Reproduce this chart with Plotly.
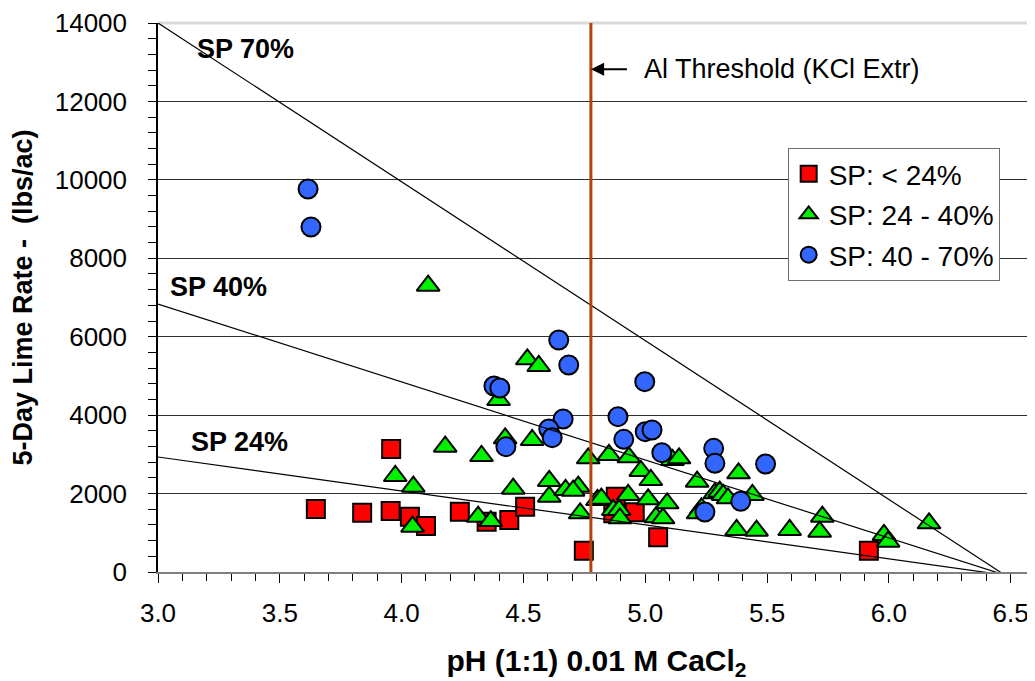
import plotly.graph_objects as go

# ---- data ----
red_ph = [3.648, 3.838, 3.957, 3.955, 4.034, 4.100, 4.239, 4.349, 4.442, 4.507,
          4.748, 4.879, 4.869, 4.957, 5.053, 5.918]
red_rate = [1607, 1513, 3137, 1556, 1411, 1173, 1539, 1283, 1326, 1666,
            544, 1921, 1496, 1522, 886, 544]

green_ph = [4.109, 4.179, 4.328, 3.974, 4.048, 4.045, 4.314, 4.366, 4.516, 4.563,
            4.398, 4.425, 4.536, 4.458, 4.606, 4.606, 4.673, 4.725, 4.704, 4.733,
            4.766, 4.804, 4.820, 4.851, 4.933, 4.930, 4.869, 4.893, 4.896, 4.982,
            5.023, 5.012, 5.044, 5.073, 5.090, 5.112, 5.139, 5.213, 5.231, 5.286,
            5.306, 5.320, 5.340, 5.440, 5.383, 5.217, 5.375, 5.457, 5.593, 5.727,
            5.716, 5.980, 5.997, 6.165]
green_rate = [7301, 3196, 2958, 2448, 2176, 1156, 1411, 1300, 5424, 5253,
              4386, 3409, 3366, 2125, 2321, 1921, 2091, 2176, 2074, 1496,
              2899, 1836, 1870, 2984, 2925, 1964, 1581, 1581, 1369, 2576,
              2346, 1853, 1394, 1369, 1752, 2856, 2899, 2303, 1624, 2007,
              2048, 1964, 1879, 1964, 2517, 1496, 1071, 1054, 1071, 1411,
              1028, 944, 774, 1241]

blue_ph = [3.616, 3.628, 4.645, 4.686, 4.379, 4.403, 4.998, 4.663, 4.604, 4.618,
           4.428, 4.888, 4.912, 5.000, 5.028, 5.068, 5.281, 5.286, 5.494, 5.392,
           5.245]
blue_rate = [9767, 8798, 5916, 5279, 4743, 4692, 4853, 3902, 3647, 3425,
             3196, 3961, 3384, 3578, 3621, 3043, 3154, 2772, 2754, 1803,
             1530]

series_names = ["SP: < 24%", "SP: 24 - 40%", "SP: 40 - 70%"]

# SP reference lines: rate at pH 3.0, converging point
sp_line_names = ["SP 70%", "SP 40%", "SP 24%"]
sp_line_start_ph = 3.0
sp_line_start_rate = [14000, 6834, 2933]
sp_line_end_ph = 6.476
sp_line_end_rate = -77
sp_label_ph = [3.152, 3.04, 3.128]
sp_label_rate = [13342, 7275, 3323]

AL_THRESHOLD = 4.777
al_label = "Al Threshold (KCl Extr)"
al_label_rate = 12820

x_ticks = [3.0, 3.5, 4.0, 4.5, 5.0, 5.5, 6.0, 6.5]
x_tick_text = ["3.0", "3.5", "4.0", "4.5", "5.0", "5.5", "6.0", "6.5"]
y_ticks = [0, 2000, 4000, 6000, 8000, 10000, 12000, 14000]
y_tick_text = ["0", "2000", "4000", "6000", "8000", "10000", "12000", "14000"]

FONT = "Liberation Sans, Arial, sans-serif"

fig = go.Figure()

marker_line = dict(color="black", width=2)
fig.add_trace(go.Scatter(x=red_ph, y=red_rate, mode="markers", name=series_names[0],
                         legendgroup="a",
                         marker=dict(symbol="square", size=18, color="#FF0000", line=marker_line)))
fig.add_trace(go.Scatter(x=green_ph, y=green_rate, mode="markers", name=series_names[1],
                         legendgroup="b",
                         marker=dict(symbol="triangle-up", size=20, color="#00F000", line=marker_line)))
fig.add_trace(go.Scatter(x=blue_ph, y=blue_rate, mode="markers", name=series_names[2],
                         legendgroup="c",
                         marker=dict(symbol="circle", size=19, color="#3366FF", line=marker_line)))

for nm, r0 in zip(sp_line_names, sp_line_start_rate):
    fig.add_trace(go.Scatter(x=[sp_line_start_ph, sp_line_end_ph], y=[r0, sp_line_end_rate],
                             mode="lines", line=dict(color="black", width=1.2),
                             showlegend=False, hoverinfo="skip", name=nm))

fig.add_trace(go.Scatter(x=[AL_THRESHOLD, AL_THRESHOLD], y=[0, 14000], mode="lines",
                         line=dict(color="#B5420C", width=3), showlegend=False,
                         hoverinfo="skip", name="Al Threshold"))

annotations = []
for nm, lx, ly in zip(sp_line_names, sp_label_ph, sp_label_rate):
    annotations.append(dict(x=lx, y=ly, text="<b>" + nm + "</b>", showarrow=False,
                            xanchor="left", yanchor="middle",
                            font=dict(family=FONT, size=27, color="black")))
# arrow pointing at the threshold line
annotations.append(dict(x=AL_THRESHOLD, y=al_label_rate, text=" ", showarrow=True,
                        ax=38, ay=0, arrowhead=2, arrowsize=1.2, arrowwidth=2.2,
                        arrowcolor="black", font=dict(size=2)))
annotations.append(dict(x=AL_THRESHOLD + (642 - 591) / 243.7, y=al_label_rate, text=al_label,
                        showarrow=False, xanchor="left", yanchor="middle",
                        font=dict(family=FONT, size=27, color="black")))

fig.update_layout(
    width=1027, height=673,
    margin=dict(l=150, r=0, t=15, b=109),
    paper_bgcolor="white", plot_bgcolor="white",
    font=dict(family=FONT, size=26, color="black"),
    showlegend=True,
    legend=dict(x=0.718, y=0.772, xanchor="left", yanchor="top",
                bgcolor="white", bordercolor="#707070", borderwidth=1,
                font=dict(family=FONT, size=28, color="black"),
                tracegroupgap=1, itemwidth=30),
    annotations=annotations,
)

fig.update_xaxes(range=[3.0, 6.6], tickvals=x_ticks, ticktext=x_tick_text,
                 showgrid=False, zeroline=False,
                 showline=True, linecolor="#808080", linewidth=2,
                 ticks="outside", ticklen=9, tickwidth=1.2, tickcolor="black",
                 ticklabelstandoff=8,
                 minor=dict(dtick=0.1, ticks="outside", ticklen=7, tickcolor="black", tickwidth=1),
                 tickfont=dict(family=FONT, size=26),
                 title=dict(text="<b>pH (1:1) 0.01 M CaCl<sub>2</sub></b>",
                            font=dict(family=FONT, size=30), standoff=28))
fig.update_yaxes(range=[0, 14000], tickvals=y_ticks, ticktext=y_tick_text,
                 showgrid=True, gridcolor="#303030", gridwidth=1, zeroline=False,
                 showline=True, linecolor="black", linewidth=1.5,
                 ticks="outside", ticklen=8, tickwidth=1.2, tickcolor="black",
                 ticklabelstandoff=16,
                 minor=dict(dtick=400, ticks="outside", ticklen=8, tickcolor="black", tickwidth=1,
                            showgrid=False),
                 tickfont=dict(family=FONT, size=26),
                 title=dict(text="<b>5-Day Lime Rate -&nbsp; (lbs/ac)</b>",
                            font=dict(family=FONT, size=27), standoff=24))

# light border on top and right of plot area
fig.add_shape(type="line", xref="paper", yref="paper", x0=0, x1=1, y0=1, y1=1,
              line=dict(color="#D9D9D9", width=3), layer="below")
fig.add_shape(type="line", xref="paper", yref="paper", x0=1, x1=1, y0=0, y1=1,
              line=dict(color="#D9D9D9", width=3), layer="below")

fig.write_html("out.html")
